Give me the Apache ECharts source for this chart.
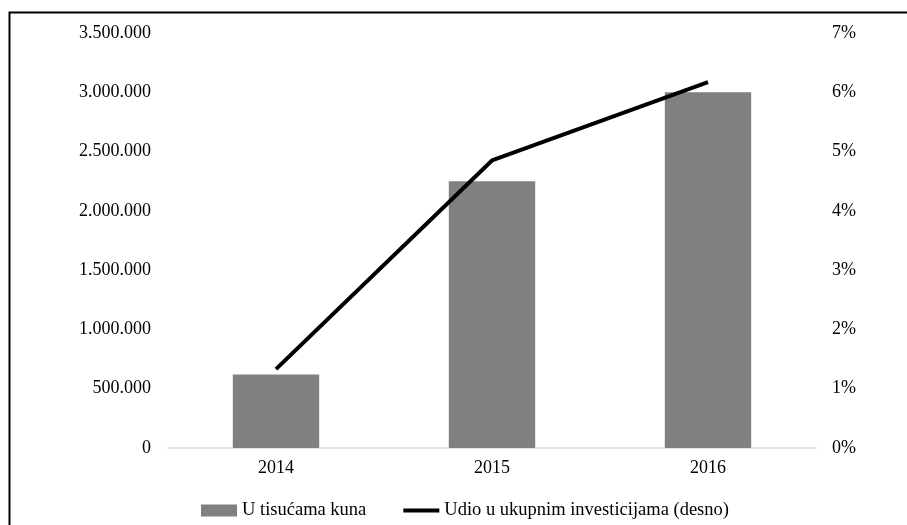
<!DOCTYPE html>
<html><head><meta charset="utf-8">
<script src="https://cdn.jsdelivr.net/npm/echarts@6/dist/echarts.min.js"></script>
<style>html,body{margin:0;padding:0;background:#fff}#c{width:907px;height:525px}</style>
</head><body><div id="c"></div>
<script>
const categories = ['2014', '2015', '2016'];
const amounts = [620000, 2250000, 3000000];
const shares = [1.33, 4.85, 6.17];
const leftTicks = { min: 0, max: 3500000, interval: 500000 };
const rightTicks = { min: 0, max: 7, interval: 1 };

const font = '"Liberation Serif", "Times New Roman", serif';
const chart = echarts.init(document.getElementById('c'), null, { renderer: 'canvas' });
chart.setOption({
  animation: false,
  textStyle: { fontFamily: font },
  graphic: [{
    type: 'rect', shape: { x: 9.5, y: 12.5, width: 920, height: 540 },
    style: { fill: 'none', stroke: '#000', lineWidth: 2 }, silent: true
  }],
  grid: { left: 168, right: 91, top: 33, bottom: 77 },
  legend: {
    bottom: 0, left: 196, itemGap: 37, itemWidth: 36, itemHeight: 12, itemTextGap: 8,
    textStyle: { fontFamily: font, fontSize: 18.5, color: '#000' },
    data: [
      { name: 'U tisućama kuna', icon: 'rect' },
      { name: 'Udio u ukupnim investicijama (desno)', icon: 'path://M0,0H40V4.5H0Z', itemStyle: { color: '#000' } }
    ]
  },
  xAxis: {
    type: 'category', data: categories,
    axisLine: { lineStyle: { color: '#d9d9d9', width: 1.5 } },
    axisTick: { show: false },
    axisLabel: { fontFamily: font, fontSize: 18, color: '#000', margin: 11 }
  },
  yAxis: [{
    type: 'value', min: leftTicks.min, max: leftTicks.max, interval: leftTicks.interval,
    splitLine: { show: false }, axisLine: { show: false }, axisTick: { show: false },
    axisLabel: {
      fontFamily: font, fontSize: 18, color: '#000', margin: 17,
      formatter: v => v === 0 ? '0' : String(v).replace(/\B(?=(\d{3})+(?!\d))/g, '.')
    }
  }, {
    type: 'value', min: rightTicks.min, max: rightTicks.max, interval: rightTicks.interval,
    splitLine: { show: false }, axisLine: { show: false }, axisTick: { show: false },
    axisLabel: { fontFamily: font, fontSize: 18, color: '#000', margin: 16, formatter: v => v + '%' }
  }],
  series: [{
    name: 'U tisućama kuna', type: 'bar', data: amounts, barWidth: '40%',
    itemStyle: { color: '#808080' }, yAxisIndex: 0
  }, {
    name: 'Udio u ukupnim investicijama (desno)', type: 'line', data: shares, yAxisIndex: 1,
    symbol: 'none', lineStyle: { color: '#000', width: 4 }, itemStyle: { color: '#000' }
  }]
});
</script></body></html>
